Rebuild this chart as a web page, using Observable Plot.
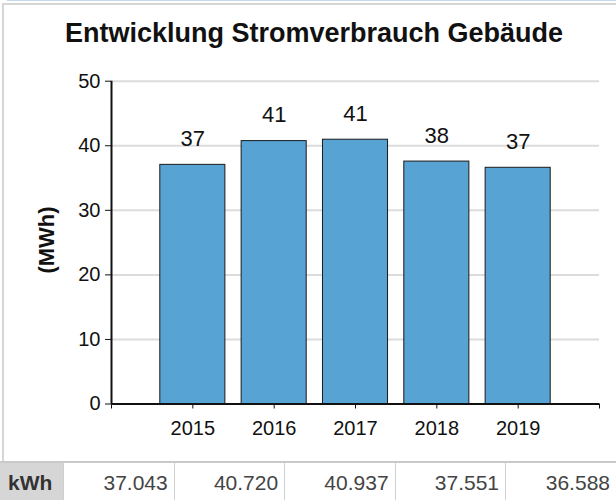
<!DOCTYPE html>
<html>
<head>
<meta charset="utf-8">
<script src="https://cdn.jsdelivr.net/npm/d3@7"></script>
<script src="https://cdn.jsdelivr.net/npm/@observablehq/plot@0.6"></script>
<style>
  html, body { margin: 0; padding: 0; width: 616px; height: 501px; overflow: hidden; background: #fff;
    font-family: "Liberation Sans", Arial, Helvetica, sans-serif; }
  #topline { position: absolute; left: 7px; top: 0; width: 620px; height: 1px; background: #c7d6ea; }
  #panel { position: absolute; left: 2px; top: 3px; width: 640px; height: 456px;
    border-left: 2px solid #d6d6d6; border-top: 2px solid #d6d6d6; background: #fff; }
  #title { position: absolute; left: 6px; top: 20px; width: 616px; text-align: center;
    font-weight: bold; font-size: 27px; line-height: 27px; color: #111; white-space: nowrap; }
  #ylabel { position: absolute; left: -3px; top: 228px; width: 100px; text-align: center;
    font-weight: bold; font-size: 22px; line-height: 24px; color: #111;
    transform: rotate(-90deg); transform-origin: 50% 50%; white-space: nowrap; }
  #chart { position: absolute; left: 0; top: 60px; }
  #table { position: absolute; left: 0; top: 461px; border-collapse: collapse; }
  #table td, #table th { height: 38px; box-sizing: border-box; padding: 10px 6px 0 0; vertical-align: top;
    font-size: 21px; line-height: 20px; border-top: 2px solid #c9c9c9; white-space: nowrap; }
  #table th { width: 64px; background: #d6d6d6; color: #333; text-align: left; padding-left: 8px; }
  #table td { width: 112.5px; text-align: right; color: #444; border-left: 1px solid #cfcfcf; }
</style>
</head>
<body>
<div id="topline"></div>
<div id="panel"></div>
<div id="title"></div>
<div id="ylabel"></div>
<div id="chart"></div>
<table id="table"><tr id="row"></tr></table>
<script>
const title = "Entwicklung Stromverbrauch Gebäude";
const yLabel = "(MWh)";
const unitLabel = "kWh";
const years = [2015, 2016, 2017, 2018, 2019];
const kwh = [37043, 40720, 40937, 37551, 36588];
const yTicks = [0, 10, 20, 30, 40, 50];
const xDomain = [2014, 2020];
const xTicks = [2014, 2015, 2016, 2017, 2018, 2019, 2020];

const data = years.map((year, i) => ({year, kwh: kwh[i], mwh: kwh[i] / 1000}));

document.getElementById("title").textContent = title;
document.getElementById("ylabel").textContent = yLabel;

const de = d3.formatLocale({decimal: ",", thousands: ".", grouping: [3], currency: ["", " €"]});
const fmt = de.format(",");
const row = document.getElementById("row");
const th = document.createElement("th");
th.textContent = unitLabel;
row.appendChild(th);
data.forEach(d => {
  const td = document.createElement("td");
  td.textContent = fmt(d.kwh);
  row.appendChild(td);
});

const halfWidth = 0.4;
const chart = Plot.plot({
  width: 616,
  height: 400,
  marginTop: 20.7,
  marginBottom: 56.5,
  marginLeft: 111,
  marginRight: 17,
  style: {fontFamily: "'Liberation Sans', Arial, sans-serif", fontSize: "20px", color: "#111", background: "transparent"},
  x: {type: "linear", domain: xDomain, ticks: xTicks, tickSize: 5, tickPadding: 12,
      tickFormat: d => (years.includes(d) ? String(d) : ""), label: null},
  y: {domain: [yTicks[0], yTicks[yTicks.length - 1]], ticks: yTicks, tickSize: 6, tickPadding: 5, label: null},
  marks: [
    Plot.ruleY(yTicks.slice(1), {stroke: "#dcdcdc", strokeWidth: 2}),
    Plot.rectY(data, {x1: d => d.year - halfWidth, x2: d => d.year + halfWidth, y: "mwh",
      fill: "#57a3d4", stroke: "#1a1a1a", strokeWidth: 1}),
    Plot.text(data, {x: "year", y: "mwh", text: d => d3.format(".0f")(d.mwh),
      lineAnchor: "bottom", dy: -19, fontSize: 22, fill: "#111"}),
    Plot.ruleX([xDomain[0]], {y1: yTicks[0], y2: yTicks[yTicks.length - 1], stroke: "#111", strokeWidth: 2}),
    Plot.ruleY([0], {stroke: "#111", strokeWidth: 2})
  ]
});
document.getElementById("chart").appendChild(chart);
</script>
</body>
</html>
